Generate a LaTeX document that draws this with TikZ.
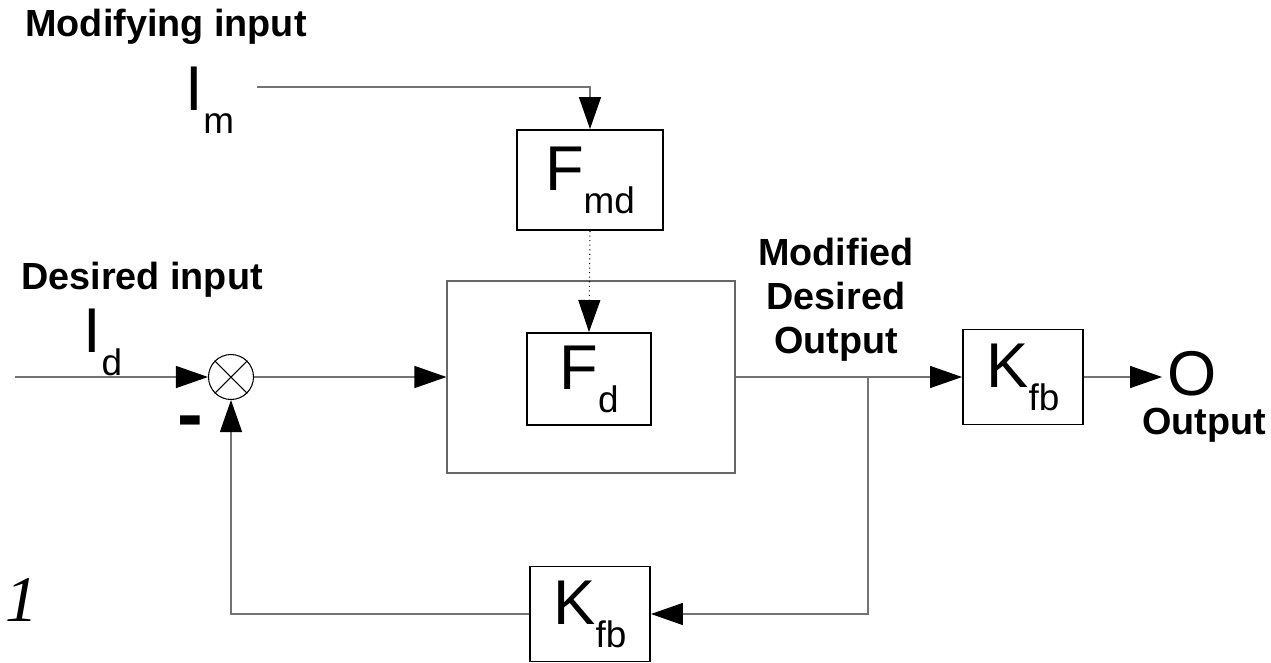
\documentclass[tikz,border=0pt]{standalone}
\usepackage{fontspec}
\setmainfont{Liberation Sans}
\newfontfamily\timesit{Liberation Serif}
\usetikzlibrary{arrows.meta}
% big letter with a lowered index
\newcommand{\blksym}[2]{{\fontsize{36}{36}\selectfont #1}\raisebox{-13pt}{\fontsize{21}{21}\selectfont #2}}
\begin{document}
\begin{tikzpicture}[x=0.2mm,y=-0.2mm,
  every node/.style={inner sep=0pt,align=center},
  blk/.style={draw,line width=1.1pt},
  lbl/.style={font=\fontsize{21.5}{25}\selectfont\bfseries},
  wire/.style={draw=black!55,line width=0.8pt},
  >={Triangle[length=6.4mm,width=4.4mm,black]}]
\useasboundingbox (0,0) rectangle (1271,663);
% labels
\node[lbl] (modlbl) at (166,27) {Modifying input};
\node (im) at (210,100) {\blksym{I}{m}};
\node[lbl] (deslbl) at (142,280) {Desired input};
\node (id) at (103,342) {\blksym{I}{d}};
\node[lbl] (mdo) at (836,300) {Modified\\Desired\\Output};
\node (out) at (1192,374) {\fontsize{36}{36}\selectfont O};
\node[lbl] (outlbl) at (1204,425) {Output};
\node (minus) at (190,428) {\fontsize{44}{44}\selectfont\bfseries -};
\node[anchor=east] (gain) at (38,600) {\fontsize{37}{37}\selectfont\timesit\itshape −1};
% blocks
\node[blk,minimum width=29.2mm,minimum height=20mm] (fmd) at (590,180) {\blksym{F}{md}};
\node[draw=black!60,line width=0.6pt,minimum width=57.6mm,minimum height=38.4mm] (big) at (591,377) {};
\node[blk,minimum width=24.8mm,minimum height=18.4mm] (fd) at (589,379) {\blksym{F}{d}};
\node[draw,line width=0.6pt,circle,minimum size=9mm] (sum) at (231,377) {};
\draw[line width=0.6pt] (sum.45) -- (sum.225) (sum.135) -- (sum.315);
\node[blk,minimum width=24mm,minimum height=19mm] (kfb) at (1023,377) {\blksym{K}{fb}};
\node[blk,minimum width=24mm,minimum height=19mm] (kfbb) at (590,614) {\blksym{K}{fb}};
% connectors
\coordinate (mstart) at (257,87);
\coordinate (din) at (15,377);
\coordinate (tap) at (868,377);
\draw[wire,->] (mstart) -| (fmd.north);
\draw[->,dotted,line width=0.6pt] (fmd.south) -- (fd.north);
\draw[wire,->] (din) -- (sum.west);
\draw[wire,->] (sum.east) -- (big.west);
\draw[wire,->] (big.east) -- (kfb.west);
\draw[wire,->] (kfb.east) -- ([xshift=-1mm]kfb.east -| out.west);
\draw[wire,->] (tap) |- (kfbb.east);
\draw[wire,->] (kfbb.west) -| (sum.south);
\end{tikzpicture}
\end{document}
